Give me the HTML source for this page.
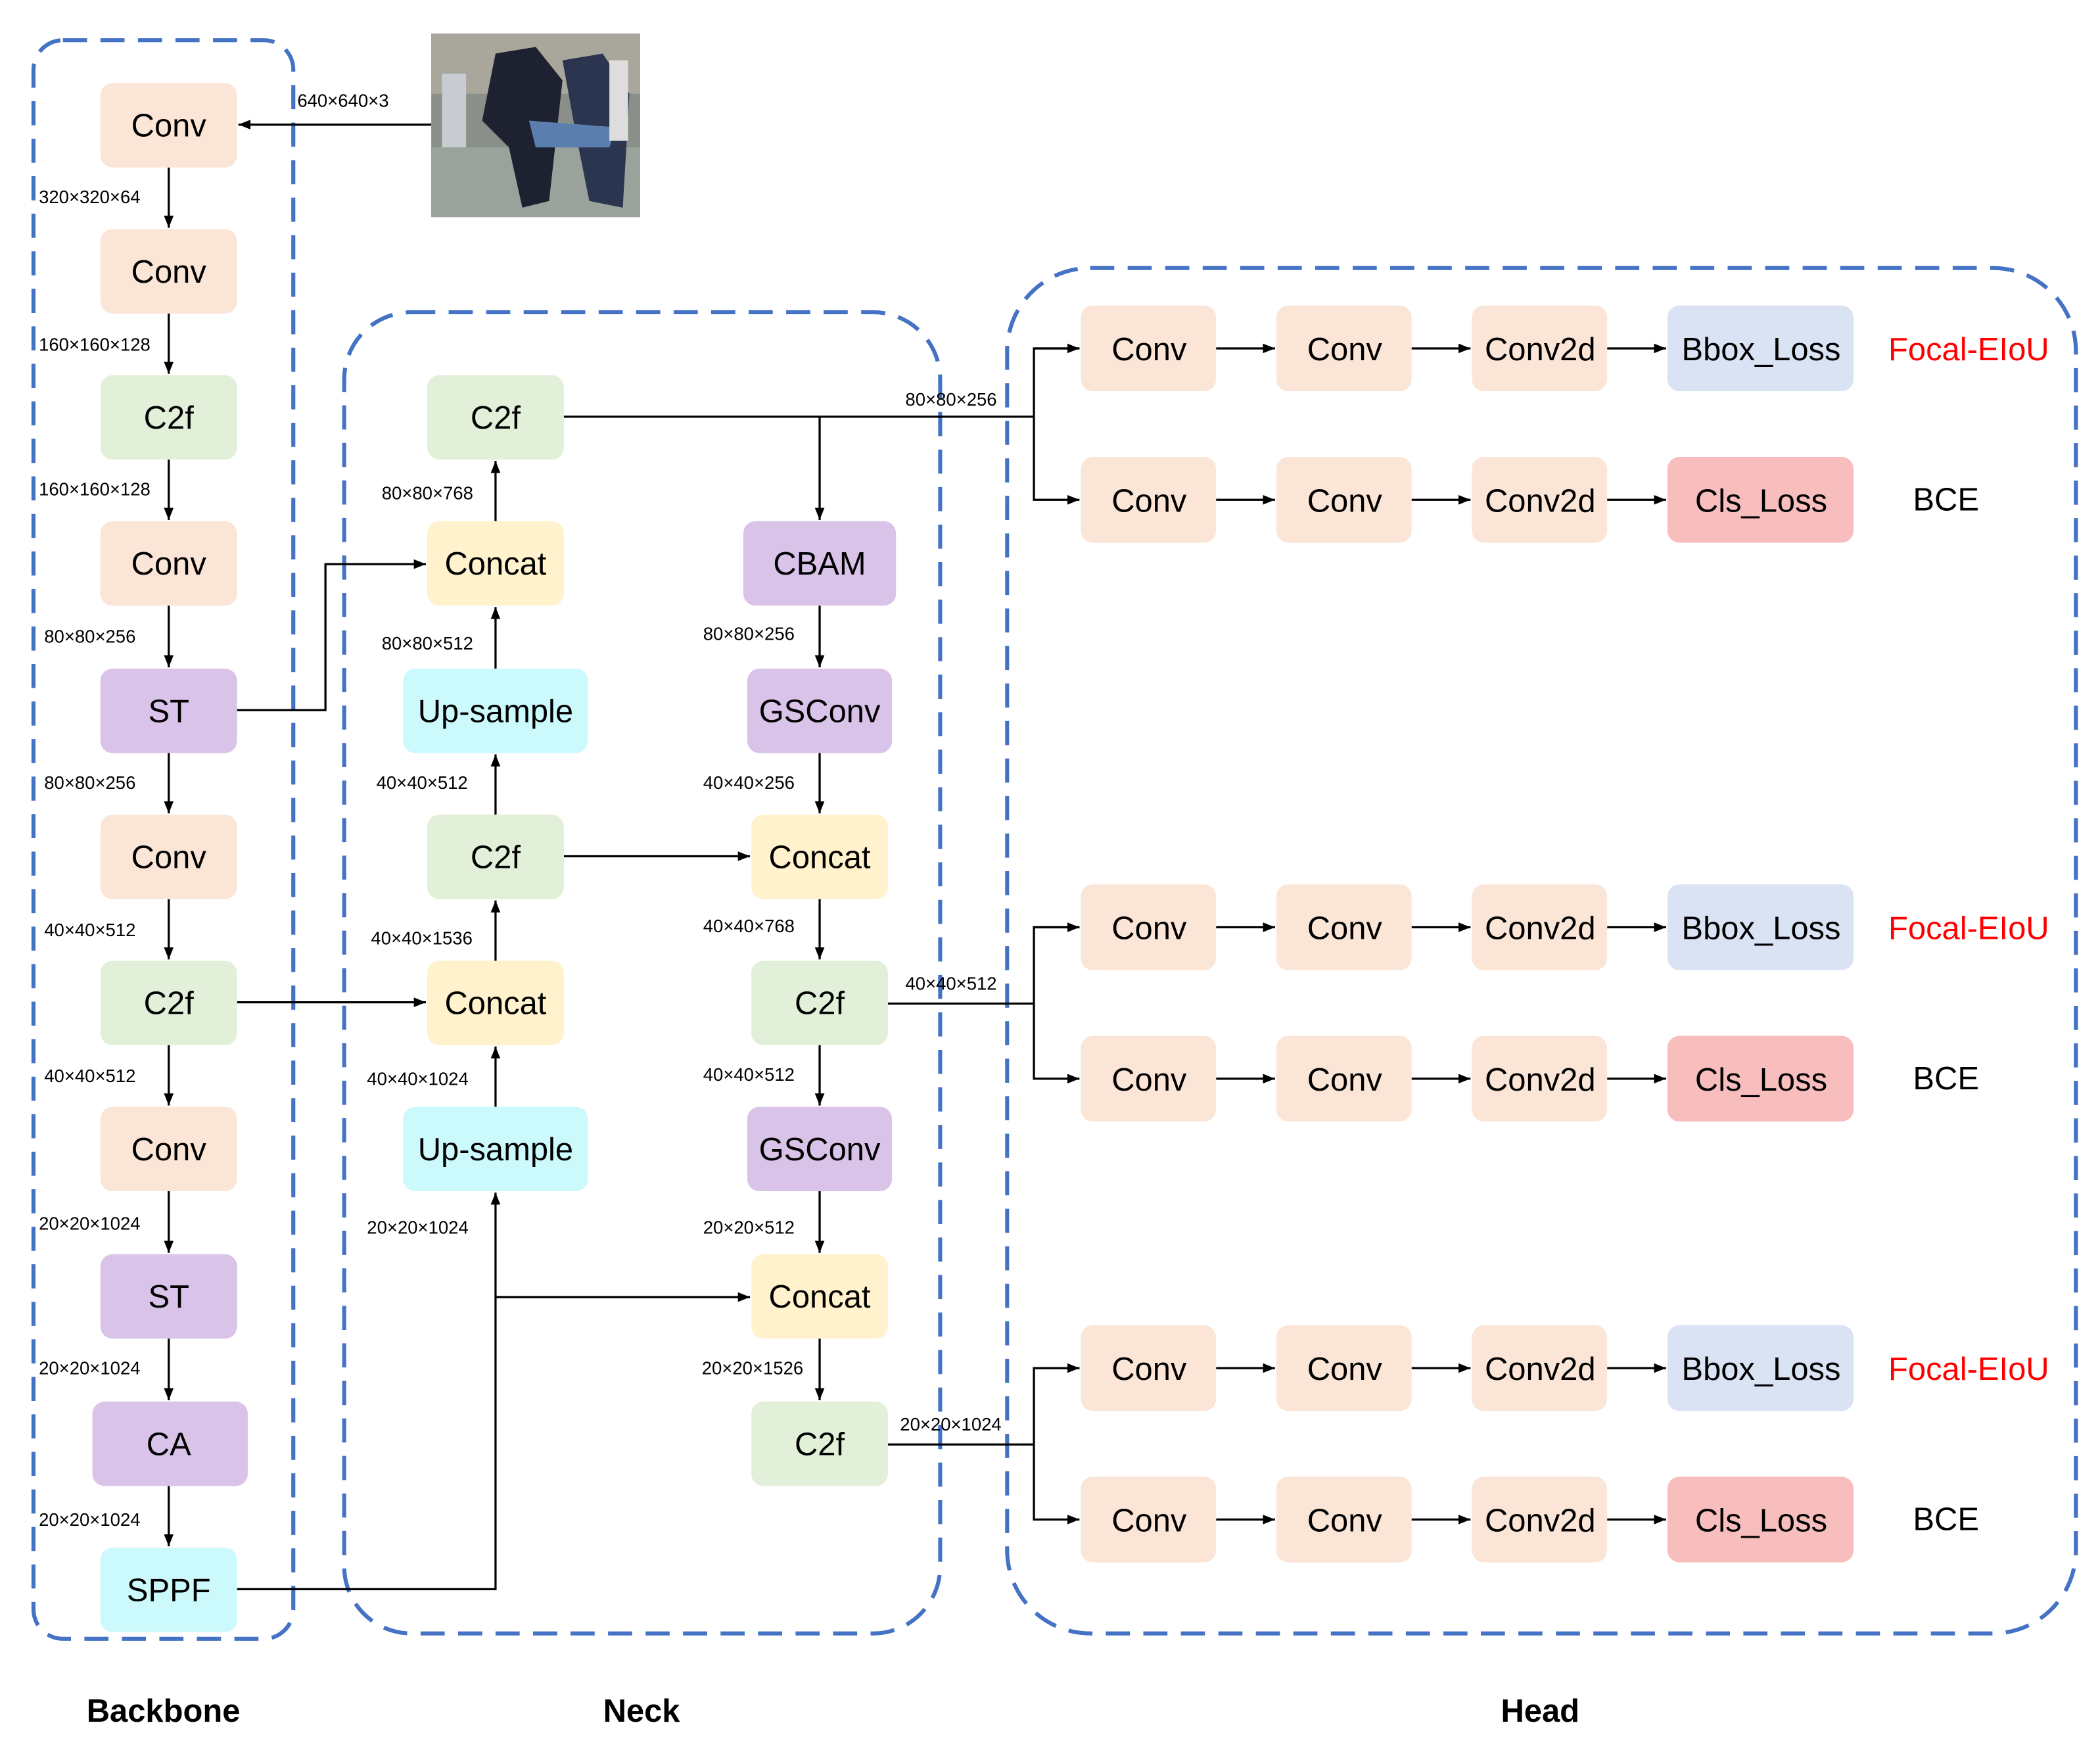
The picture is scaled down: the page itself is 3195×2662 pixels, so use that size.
<!DOCTYPE html>
<html><head><meta charset="utf-8"><style>
html,body{margin:0;padding:0;background:#fff;}
svg{display:block;}
text{font-family:"Liberation Sans",sans-serif;}
</style></head><body>
<svg width="3195" height="2662" viewBox="0 0 1568 1306" preserveAspectRatio="none" xmlns="http://www.w3.org/2000/svg">
<defs>
<marker id="a" viewBox="0 0 10 10" refX="10" refY="5" markerWidth="9" markerHeight="9" markerUnits="userSpaceOnUse" orient="auto">
<path d="M0,1 L10,5 L0,9 z" fill="#000"/></marker>
</defs>
<rect width="1568" height="1306" fill="#fff"/>
<!-- dashed groups -->
<g fill="none" stroke="#4472C4" stroke-width="3" stroke-dasharray="18,10">
<rect x="25" y="30" width="194" height="1193" rx="22"/>
<rect x="257" y="233" width="445" height="986" rx="50"/>
<rect x="752" y="200" width="798" height="1019" rx="62"/>
</g>
<!-- image -->
<rect x="322" y="25" width="156" height="137" fill="#8a8f8a"/>
<rect x="322" y="25" width="156" height="45" fill="#a9a79c"/>
<rect x="322" y="110" width="156" height="52" fill="#9aa39b"/>
<path d="M370,40 L400,35 L420,60 L410,150 L390,155 L380,110 L360,90 z" fill="#1e2230"/>
<path d="M420,45 L450,40 L470,70 L465,155 L440,150 L430,100 z" fill="#2c3550"/>
<path d="M395,90 L460,95 L455,110 L400,110 z" fill="#5a7fae"/>
<rect x="330" y="55" width="18" height="55" fill="#c8ccd2"/>
<rect x="455" y="45" width="14" height="60" fill="#ddd"/>
<!-- connectors -->
<g stroke="#000" stroke-width="1.6" fill="none">
<line x1="322" y1="93" x2="178" y2="93" marker-end="url(#a)"/>
<line x1="126" y1="125" x2="126" y2="170" marker-end="url(#a)"/>
<line x1="126" y1="234" x2="126" y2="279" marker-end="url(#a)"/>
<line x1="126" y1="343" x2="126" y2="388" marker-end="url(#a)"/>
<line x1="126" y1="452" x2="126" y2="498" marker-end="url(#a)"/>
<line x1="126" y1="562" x2="126" y2="607" marker-end="url(#a)"/>
<line x1="126" y1="671" x2="126" y2="716" marker-end="url(#a)"/>
<line x1="126" y1="780" x2="126" y2="825" marker-end="url(#a)"/>
<line x1="126" y1="889" x2="126" y2="935" marker-end="url(#a)"/>
<line x1="126" y1="999" x2="126" y2="1045" marker-end="url(#a)"/>
<line x1="126" y1="1109" x2="126" y2="1154" marker-end="url(#a)"/>
<!-- neck left up arrows -->
<line x1="370" y1="389" x2="370" y2="344" marker-end="url(#a)"/>
<line x1="370" y1="499" x2="370" y2="453" marker-end="url(#a)"/>
<line x1="370" y1="608" x2="370" y2="563" marker-end="url(#a)"/>
<line x1="370" y1="717" x2="370" y2="672" marker-end="url(#a)"/>
<line x1="370" y1="826" x2="370" y2="781" marker-end="url(#a)"/>
<polyline points="177,1186 370,1186 370,890" marker-end="url(#a)"/>
<line x1="370" y1="968" x2="560" y2="968" marker-end="url(#a)"/>
<polyline points="177,530 243,530 243,421 318,421" marker-end="url(#a)"/>
<line x1="177" y1="748" x2="318" y2="748" marker-end="url(#a)"/>
<line x1="421" y1="639" x2="560" y2="639" marker-end="url(#a)"/>
<!-- right col -->
<line x1="421" y1="311" x2="772" y2="311"/>
<line x1="612" y1="311" x2="612" y2="388" marker-end="url(#a)"/>
<line x1="612" y1="452" x2="612" y2="498" marker-end="url(#a)"/>
<line x1="612" y1="562" x2="612" y2="607" marker-end="url(#a)"/>
<line x1="612" y1="671" x2="612" y2="716" marker-end="url(#a)"/>
<line x1="612" y1="780" x2="612" y2="825" marker-end="url(#a)"/>
<line x1="612" y1="889" x2="612" y2="935" marker-end="url(#a)"/>
<line x1="612" y1="999" x2="612" y2="1045" marker-end="url(#a)"/>
<line x1="663" y1="749" x2="772" y2="749"/>
<line x1="663" y1="1078" x2="772" y2="1078"/>
<polyline points="806,260 772,260 772,373 806,373" marker-end="url(#a)"/>
<line x1="772" y1="260" x2="806" y2="260" marker-end="url(#a)"/>
<polyline points="806,692 772,692 772,805 806,805" marker-end="url(#a)"/>
<line x1="772" y1="692" x2="806" y2="692" marker-end="url(#a)"/>
<polyline points="806,1021 772,1021 772,1134 806,1134" marker-end="url(#a)"/>
<line x1="772" y1="1021" x2="806" y2="1021" marker-end="url(#a)"/>
<!-- head rows -->
<g id="rowarrows">
<line x1="908" y1="260" x2="952" y2="260" marker-end="url(#a)"/><line x1="1054" y1="260" x2="1098" y2="260" marker-end="url(#a)"/><line x1="1200" y1="260" x2="1244" y2="260" marker-end="url(#a)"/>
<line x1="908" y1="373" x2="952" y2="373" marker-end="url(#a)"/><line x1="1054" y1="373" x2="1098" y2="373" marker-end="url(#a)"/><line x1="1200" y1="373" x2="1244" y2="373" marker-end="url(#a)"/>
<line x1="908" y1="692" x2="952" y2="692" marker-end="url(#a)"/><line x1="1054" y1="692" x2="1098" y2="692" marker-end="url(#a)"/><line x1="1200" y1="692" x2="1244" y2="692" marker-end="url(#a)"/>
<line x1="908" y1="805" x2="952" y2="805" marker-end="url(#a)"/><line x1="1054" y1="805" x2="1098" y2="805" marker-end="url(#a)"/><line x1="1200" y1="805" x2="1244" y2="805" marker-end="url(#a)"/>
<line x1="908" y1="1021" x2="952" y2="1021" marker-end="url(#a)"/><line x1="1054" y1="1021" x2="1098" y2="1021" marker-end="url(#a)"/><line x1="1200" y1="1021" x2="1244" y2="1021" marker-end="url(#a)"/>
<line x1="908" y1="1134" x2="952" y2="1134" marker-end="url(#a)"/><line x1="1054" y1="1134" x2="1098" y2="1134" marker-end="url(#a)"/><line x1="1200" y1="1134" x2="1244" y2="1134" marker-end="url(#a)"/>
</g>
</g>
<!-- nodes -->
<g font-size="24" text-anchor="middle" dominant-baseline="central" fill="#000">
<g>
<rect x="75" y="62" width="102" height="63" rx="9" fill="#FBE5D6"/><text x="126" y="94">Conv</text>
<rect x="75" y="171" width="102" height="63" rx="9" fill="#FBE5D6"/><text x="126" y="203">Conv</text>
<rect x="75" y="280" width="102" height="63" rx="9" fill="#E2F0D9"/><text x="126" y="312">C2f</text>
<rect x="75" y="389" width="102" height="63" rx="9" fill="#FBE5D6"/><text x="126" y="421">Conv</text>
<rect x="75" y="499" width="102" height="63" rx="9" fill="#D9C3E9"/><text x="126" y="531">ST</text>
<rect x="75" y="608" width="102" height="63" rx="9" fill="#FBE5D6"/><text x="126" y="640">Conv</text>
<rect x="75" y="717" width="102" height="63" rx="9" fill="#E2F0D9"/><text x="126" y="749">C2f</text>
<rect x="75" y="826" width="102" height="63" rx="9" fill="#FBE5D6"/><text x="126" y="858">Conv</text>
<rect x="75" y="936" width="102" height="63" rx="9" fill="#D9C3E9"/><text x="126" y="968">ST</text>
<rect x="69" y="1046" width="116" height="63" rx="9" fill="#D9C3E9"/><text x="126" y="1078">CA</text>
<rect x="75" y="1155" width="102" height="63" rx="9" fill="#CCFAFC"/><text x="126" y="1187">SPPF</text>
</g>
<g>
<rect x="319" y="280" width="102" height="63" rx="9" fill="#E2F0D9"/><text x="370" y="312">C2f</text>
<rect x="319" y="389" width="102" height="63" rx="9" fill="#FFF2CC"/><text x="370" y="421">Concat</text>
<rect x="301" y="499" width="138" height="63" rx="9" fill="#CCFAFC"/><text x="370" y="531">Up-sample</text>
<rect x="319" y="608" width="102" height="63" rx="9" fill="#E2F0D9"/><text x="370" y="640">C2f</text>
<rect x="319" y="717" width="102" height="63" rx="9" fill="#FFF2CC"/><text x="370" y="749">Concat</text>
<rect x="301" y="826" width="138" height="63" rx="9" fill="#CCFAFC"/><text x="370" y="858">Up-sample</text>
<rect x="555" y="389" width="114" height="63" rx="9" fill="#D9C3E9"/><text x="612" y="421">CBAM</text>
<rect x="558" y="499" width="108" height="63" rx="9" fill="#D9C3E9"/><text x="612" y="531">GSConv</text>
<rect x="561" y="608" width="102" height="63" rx="9" fill="#FFF2CC"/><text x="612" y="640">Concat</text>
<rect x="561" y="717" width="102" height="63" rx="9" fill="#E2F0D9"/><text x="612" y="749">C2f</text>
<rect x="558" y="826" width="108" height="63" rx="9" fill="#D9C3E9"/><text x="612" y="858">GSConv</text>
<rect x="561" y="936" width="102" height="63" rx="9" fill="#FFF2CC"/><text x="612" y="968">Concat</text>
<rect x="561" y="1046" width="102" height="63" rx="9" fill="#E2F0D9"/><text x="612" y="1078">C2f</text>
</g>
<g id="head">
<rect x="807" y="228" width="101" height="64" rx="9" fill="#FBE5D6"/><text x="858" y="261">Conv</text>
<rect x="953" y="228" width="101" height="64" rx="9" fill="#FBE5D6"/><text x="1004" y="261">Conv</text>
<rect x="1099" y="228" width="101" height="64" rx="9" fill="#FBE5D6"/><text x="1150" y="261">Conv2d</text>
<rect x="1245" y="228" width="139" height="64" rx="9" fill="#DAE3F3"/><text x="1315" y="261">Bbox_Loss</text>
<rect x="807" y="341" width="101" height="64" rx="9" fill="#FBE5D6"/><text x="858" y="374">Conv</text>
<rect x="953" y="341" width="101" height="64" rx="9" fill="#FBE5D6"/><text x="1004" y="374">Conv</text>
<rect x="1099" y="341" width="101" height="64" rx="9" fill="#FBE5D6"/><text x="1150" y="374">Conv2d</text>
<rect x="1245" y="341" width="139" height="64" rx="9" fill="#F8BDBD"/><text x="1315" y="374">Cls_Loss</text>

<rect x="807" y="660" width="101" height="64" rx="9" fill="#FBE5D6"/><text x="858" y="693">Conv</text>
<rect x="953" y="660" width="101" height="64" rx="9" fill="#FBE5D6"/><text x="1004" y="693">Conv</text>
<rect x="1099" y="660" width="101" height="64" rx="9" fill="#FBE5D6"/><text x="1150" y="693">Conv2d</text>
<rect x="1245" y="660" width="139" height="64" rx="9" fill="#DAE3F3"/><text x="1315" y="693">Bbox_Loss</text>
<rect x="807" y="773" width="101" height="64" rx="9" fill="#FBE5D6"/><text x="858" y="806">Conv</text>
<rect x="953" y="773" width="101" height="64" rx="9" fill="#FBE5D6"/><text x="1004" y="806">Conv</text>
<rect x="1099" y="773" width="101" height="64" rx="9" fill="#FBE5D6"/><text x="1150" y="806">Conv2d</text>
<rect x="1245" y="773" width="139" height="64" rx="9" fill="#F8BDBD"/><text x="1315" y="806">Cls_Loss</text>

<rect x="807" y="989" width="101" height="64" rx="9" fill="#FBE5D6"/><text x="858" y="1022">Conv</text>
<rect x="953" y="989" width="101" height="64" rx="9" fill="#FBE5D6"/><text x="1004" y="1022">Conv</text>
<rect x="1099" y="989" width="101" height="64" rx="9" fill="#FBE5D6"/><text x="1150" y="1022">Conv2d</text>
<rect x="1245" y="989" width="139" height="64" rx="9" fill="#DAE3F3"/><text x="1315" y="1022">Bbox_Loss</text>
<rect x="807" y="1102" width="101" height="64" rx="9" fill="#FBE5D6"/><text x="858" y="1135">Conv</text>
<rect x="953" y="1102" width="101" height="64" rx="9" fill="#FBE5D6"/><text x="1004" y="1135">Conv</text>
<rect x="1099" y="1102" width="101" height="64" rx="9" fill="#FBE5D6"/><text x="1150" y="1135">Conv2d</text>
<rect x="1245" y="1102" width="139" height="64" rx="9" fill="#F8BDBD"/><text x="1315" y="1135">Cls_Loss</text>
</g>
<text x="1470" y="261" fill="#FF0000">Focal-EIoU</text>
<text x="1453" y="373">BCE</text>
<text x="1470" y="693" fill="#FF0000">Focal-EIoU</text>
<text x="1453" y="805">BCE</text>
<text x="1470" y="1022" fill="#FF0000">Focal-EIoU</text>
<text x="1453" y="1134">BCE</text>
<g font-weight="bold">
<text x="122" y="1277">Backbone</text>
<text x="479" y="1277">Neck</text>
<text x="1150" y="1277">Head</text>
</g>
</g>
<!-- dimension labels -->
<g font-size="13.5" fill="#000" dominant-baseline="central">
<text x="222" y="75">640×640×3</text>
<text x="29" y="147">320×320×64</text>
<text x="29" y="257">160×160×128</text>
<text x="29" y="365">160×160×128</text>
<text x="33" y="475">80×80×256</text>
<text x="33" y="584">80×80×256</text>
<text x="33" y="694">40×40×512</text>
<text x="33" y="803">40×40×512</text>
<text x="29" y="913">20×20×1024</text>
<text x="29" y="1021">20×20×1024</text>
<text x="29" y="1134">20×20×1024</text>
<text x="285" y="368">80×80×768</text>
<text x="285" y="480">80×80×512</text>
<text x="281" y="584">40×40×512</text>
<text x="277" y="700">40×40×1536</text>
<text x="274" y="805">40×40×1024</text>
<text x="274" y="916">20×20×1024</text>
<text x="525" y="473">80×80×256</text>
<text x="525" y="584">40×40×256</text>
<text x="525" y="691">40×40×768</text>
<text x="525" y="802">40×40×512</text>
<text x="525" y="916">20×20×512</text>
<text x="524" y="1021">20×20×1526</text>
<text x="676" y="298">80×80×256</text>
<text x="676" y="734">40×40×512</text>
<text x="672" y="1063">20×20×1024</text>
</g>
</svg>
</body></html>
